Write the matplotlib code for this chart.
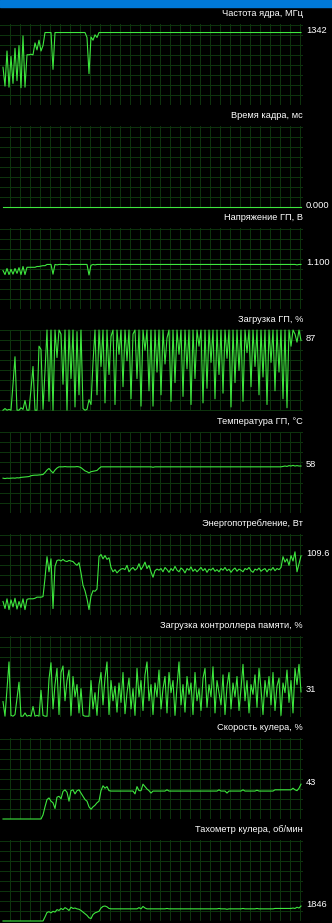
import numpy as np
import matplotlib
matplotlib.use("Agg")
import matplotlib.pyplot as plt
from matplotlib.patches import Rectangle

plt.rcParams['font.family'] = ['Liberation Sans', 'DejaVu Sans']

# подписи графиков и текущие значения справа
titles = ["Частота ядра, МГц", "Время кадра, мс", "Напряжение ГП, В",
          "Загрузка ГП, %", "Температура ГП, °C", "Энергопотребление, Вт",
          "Загрузка контроллера памяти, %", "Скорость кулера, %",
          "Тахометр кулера, об/мин"]
value_labels = ["1342", "0.000", "1.100", "87", "58", "109.6", "31", "43", "1846"]
y_limits = [(0, 1500), (0, 10), (0, 2), (0, 100), (0, 100),
            (0, 150), (0, 100), (0, 100), (0, 10000)]

# ------------------------------
# данные мониторинга (150 отсчётов)
# ------------------------------
core_clock = [
    700, 350, 1000, 330, 900, 400, 1050, 450, 1100, 320, 1280, 330, 930, 930, 940,
    930, 1150, 1020, 1200, 1000, 1100, 1342, 1342, 1342, 1342, 660, 1342, 1342, 1342, 1342,
    1342, 1342, 1342, 1342, 1342, 1342, 1342, 1342, 1342, 1342, 1342, 1342, 1250, 580, 1260,
    1200, 1300, 1250, 1342, 1342, 1342, 1342, 1342, 1342, 1342, 1342, 1342, 1342, 1342, 1342,
    1342, 1342, 1342, 1342, 1342, 1342, 1342, 1342, 1342, 1342, 1342, 1342, 1342, 1342, 1342,
    1342, 1342, 1342, 1342, 1342, 1342, 1342, 1342, 1342, 1342, 1342, 1342, 1342, 1342, 1342,
    1342, 1342, 1342, 1342, 1342, 1342, 1342, 1342, 1342, 1342, 1342, 1342, 1342, 1342, 1342,
    1342, 1342, 1342, 1342, 1342, 1342, 1342, 1342, 1342, 1342, 1342, 1342, 1342, 1342, 1342,
    1342, 1342, 1342, 1342, 1342, 1342, 1342, 1342, 1342, 1342, 1342, 1342, 1342, 1342, 1342,
    1342, 1342, 1342, 1342, 1342, 1342, 1342, 1342, 1342, 1342, 1342, 1342, 1342, 1342, 1342,
]

frame_time = [
    0, 0, 0, 0, 0, 0, 0, 0, 0, 0, 0, 0, 0, 0, 0,
    0, 0, 0, 0, 0, 0, 0, 0, 0, 0, 0, 0, 0, 0, 0,
    0, 0, 0, 0, 0, 0, 0, 0, 0, 0, 0, 0, 0, 0, 0,
    0, 0, 0, 0, 0, 0, 0, 0, 0, 0, 0, 0, 0, 0, 0,
    0, 0, 0, 0, 0, 0, 0, 0, 0, 0, 0, 0, 0, 0, 0,
    0, 0, 0, 0, 0, 0, 0, 0, 0, 0, 0, 0, 0, 0, 0,
    0, 0, 0, 0, 0, 0, 0, 0, 0, 0, 0, 0, 0, 0, 0,
    0, 0, 0, 0, 0, 0, 0, 0, 0, 0, 0, 0, 0, 0, 0,
    0, 0, 0, 0, 0, 0, 0, 0, 0, 0, 0, 0, 0, 0, 0,
    0, 0, 0, 0, 0, 0, 0, 0, 0, 0, 0, 0, 0, 0, 0,
]

gpu_voltage = [
    0.95, 0.85, 1.0, 0.85, 0.98, 0.86, 1.0, 0.88, 1.02, 0.85, 1.05, 0.85, 1.03, 1.03, 1.03,
    1.03, 1.03, 1.05, 1.05, 1.06, 1.07, 1.07, 1.1, 1.1, 1.1, 0.86, 1.1, 1.09, 1.1, 1.1,
    1.1, 1.1, 1.1, 1.09, 1.1, 1.1, 1.1, 1.1, 1.1, 1.1, 1.1, 1.1, 1.1, 0.84, 1.08,
    1.1, 1.09, 1.1, 1.1, 1.1, 1.1, 1.1, 1.1, 1.1, 1.1, 1.1, 1.1, 1.1, 1.1, 1.1,
    1.1, 1.1, 1.1, 1.1, 1.1, 1.1, 1.1, 1.1, 1.1, 1.1, 1.1, 1.1, 1.1, 1.1, 1.1,
    1.1, 1.1, 1.1, 1.1, 1.1, 1.1, 1.1, 1.1, 1.1, 1.1, 1.1, 1.1, 1.1, 1.1, 1.1,
    1.1, 1.1, 1.1, 1.1, 1.1, 1.1, 1.1, 1.1, 1.1, 1.1, 1.1, 1.1, 1.1, 1.1, 1.1,
    1.1, 1.1, 1.1, 1.1, 1.1, 1.1, 1.1, 1.1, 1.1, 1.1, 1.1, 1.1, 1.1, 1.1, 1.1,
    1.1, 1.1, 1.1, 1.1, 1.1, 1.1, 1.1, 1.1, 1.1, 1.1, 1.1, 1.1, 1.1, 1.1, 1.1,
    1.1, 1.1, 1.1, 1.1, 1.1, 1.1, 1.1, 1.1, 1.1, 1.1, 1.1, 1.1, 1.09, 1.1, 1.1,
]

gpu_load = [
    1, 3, 1, 2, 1, 33, 67, 1, 1, 4, 2, 13, 1, 1, 27,
    55, 1, 1, 80, 76, 2, 49, 100, 12, 100, 1, 100, 66, 100, 95,
    33, 100, 1, 100, 40, 100, 5, 98, 20, 100, 3, 1, 2, 14, 8,
    60, 100, 20, 100, 55, 100, 10, 100, 45, 92, 100, 8, 100, 70, 100,
    30, 100, 62, 100, 15, 95, 100, 40, 100, 6, 100, 75, 100, 25, 100,
    6, 100, 48, 100, 20, 100, 58, 90, 100, 12, 100, 35, 100, 70, 100,
    18, 100, 52, 100, 8, 100, 40, 100, 80, 100, 10, 100, 28, 100, 60,
    100, 15, 100, 45, 100, 22, 100, 65, 100, 5, 100, 35, 100, 50, 100,
    12, 100, 72, 100, 30, 100, 55, 100, 20, 100, 42, 100, 8, 100, 60,
    100, 25, 100, 48, 100, 15, 100, 4, 100, 80, 100, 95, 85, 100, 87,
]

gpu_temp = [
    43, 42.5, 43, 42.8, 43, 43.2, 43, 43.5, 43.3, 44, 44.2, 44.5, 44.7, 45, 46,
    46.5, 46.7, 46.7, 47, 47.2, 47.5, 50, 53, 55, 52, 49.5, 53, 55.5, 57, 57,
    57, 57.3, 57, 57, 57, 57, 57, 57.3, 57, 56, 54, 52, 51, 49.5, 51,
    51.5, 52, 52.5, 55, 57, 57, 57, 57, 57, 57, 57, 57, 57, 57, 57,
    57, 57, 57, 57, 57, 57, 57, 57, 57, 57, 57, 57, 57, 57, 57,
    56.5, 57, 57, 57, 57, 57, 57, 57, 57, 57, 57, 57, 57, 57, 57,
    57, 57, 57, 57, 57, 57, 57, 57, 57, 57, 57, 57, 57, 57, 57,
    57, 57, 57, 57, 57, 57, 57, 57, 57, 57, 57, 57, 57, 57, 57,
    57, 57, 57, 57, 57, 57, 57, 57, 57, 57, 57, 57, 57, 57, 57,
    57, 57, 57, 57, 57, 57.5, 58, 57.5, 58.5, 58, 58.8, 58, 58.5, 58, 58,
]

power = [
    25, 12, 30, 10, 28, 15, 31, 11, 25, 14, 30, 10, 29, 30, 30,
    30, 31, 33, 33, 33, 34, 68, 108, 80, 104, 12, 90, 101, 102, 100,
    103, 100, 99, 101, 100, 99, 95, 92, 97, 78, 55, 45, 30, 10, 35,
    45, 44, 48, 108, 112, 104, 110, 103, 106, 88, 80, 84, 78, 82, 85,
    86, 84, 92, 80, 85, 88, 83, 86, 95, 84, 90, 98, 86, 92, 80,
    70, 82, 85, 83, 86, 80, 88, 84, 79, 86, 82, 90, 83, 80, 87,
    84, 78, 86, 83, 89, 81, 85, 80, 84, 88, 82, 86, 79, 85, 83,
    87, 81, 84, 80, 86, 83, 88, 82, 85, 79, 84, 87, 81, 85, 83,
    80, 86, 84, 88, 82, 79, 85, 83, 87, 81, 84, 86, 80, 85, 83,
    88, 82, 86, 84, 88, 108, 98, 104, 92, 110, 100, 117, 80, 95, 109.6,
]

mem_ctrl_load = [
    19, 1, 35, 68, 2, 1, 3, 23, 43, 1, 1, 5, 1, 2, 1,
    13, 1, 2, 1, 33, 2, 1, 1, 47, 67, 10, 40, 60, 3, 55,
    63, 20, 45, 58, 2, 50, 25, 40, 5, 35, 2, 1, 1, 1, 45,
    10, 30, 2, 40, 55, 15, 48, 68, 3, 45, 20, 38, 6, 42, 18,
    55, 4, 30, 48, 10, 35, 2, 60, 25, 45, 8, 52, 68, 20, 40,
    3, 42, 25, 58, 10, 35, 50, 5, 55, 30, 45, 2, 38, 68, 15,
    40, 6, 50, 28, 42, 3, 55, 20, 35, 8, 48, 60, 12, 40, 25,
    62, 5, 45, 30, 15, 52, 3, 38, 55, 10, 42, 25, 50, 8, 35,
    65, 20, 45, 5, 40, 28, 52, 12, 60, 35, 3, 45, 25, 50, 15,
    55, 8, 38, 48, 2, 42, 30, 58, 18, 45, 5, 60, 40, 65, 31,
]

fan_speed = [
    0, 0, 0, 0, 0, 0, 0, 0, 0, 0, 0, 0, 0, 0, 0,
    0, 0, 0, 0, 0, 5, 15, 24, 26, 22, 20, 13, 27, 28, 25,
    34, 36, 33, 22, 35, 36, 31, 35, 36, 32, 28, 24, 22, 15, 12,
    15, 17, 20, 22, 35, 41, 38, 40, 35, 34.5, 34.5, 34.5, 34.5, 34.5, 34.5,
    34.5, 34.5, 34.5, 34.5, 34.5, 34.5, 31, 40, 35, 35, 43, 40, 37, 35, 32,
    34.5, 34.5, 34.5, 34.5, 34.5, 34.5, 34.5, 36, 34.5, 34.5, 34.5, 34.5, 34.5, 34.5, 34.5,
    34.5, 34.5, 34.5, 34.5, 34.5, 34.5, 34.5, 34.5, 34.5, 34.5, 34.5, 34.5, 34.5, 34.5, 34.5,
    34.5, 34.5, 34.5, 36, 34.5, 34.5, 34.5, 32, 34.5, 34.5, 34.5, 34.5, 34.5, 34.5, 34.5,
    36, 34.5, 34.5, 34.5, 34.5, 34.5, 34.5, 35.5, 34.5, 34.5, 34.5, 34.5, 34.5, 34.5, 34.5,
    34.5, 36, 36, 36, 36, 36, 36, 36, 36, 36, 38, 36, 35, 38, 43,
]

fan_rpm = [
    0, 0, 0, 0, 0, 0, 0, 0, 0, 0, 0, 0, 0, 0, 0,
    0, 0, 0, 0, 0, 0, 500, 1050, 1150, 1000, 1200, 1100, 1400, 1300, 1550,
    1400, 1650, 1500, 1300, 1700, 1550, 1600, 1500, 1450, 1300, 1100, 900, 700, 400, 300,
    800, 1000, 1100, 1200, 1600, 1800, 1850, 1750, 1550, 1500, 1500, 1500, 1500, 1500, 1500,
    1500, 1500, 1500, 1500, 1500, 1500, 1500, 1500, 1650, 1500, 1800, 1600, 1500, 1500, 1500,
    1500, 1500, 1500, 1500, 1500, 1500, 1500, 1550, 1500, 1500, 1500, 1500, 1500, 1500, 1500,
    1500, 1500, 1500, 1500, 1500, 1500, 1500, 1500, 1500, 1500, 1500, 1500, 1500, 1500, 1500,
    1500, 1500, 1500, 1550, 1500, 1500, 1500, 1450, 1500, 1500, 1500, 1500, 1500, 1500, 1500,
    1550, 1500, 1500, 1500, 1500, 1500, 1500, 1550, 1500, 1500, 1500, 1500, 1500, 1500, 1500,
    1500, 1550, 1550, 1550, 1550, 1550, 1550, 1550, 1550, 1550, 1600, 1550, 1700, 1600, 1846,
]

series = [core_clock, frame_time, gpu_voltage, gpu_load, gpu_temp,
          power, mem_ctrl_load, fan_speed, fan_rpm]

# ------------------------------
# рисование
# ------------------------------
W, H = 332, 923
PLOT_W = 303
LINE = "#3ee63e"
GRID = "#0d330d"

fig = plt.figure(figsize=(W / 100, H / 100), dpi=100, facecolor="black")
fig.patches.append(Rectangle((0, 1 - 7 / H), 1, 7 / H, transform=fig.transFigure,
                             color="#0078d7", zorder=0))

x = np.arange(150)
for k in range(9):
    top = 24 + 102 * k
    ax = fig.add_axes([0, 1 - (top + 81) / H, PLOT_W / W, 81 / H])
    ax.set_facecolor("black")
    lo, hi = y_limits[k]
    ax.set_xlim(-1.5, 150)
    ax.set_ylim(lo, hi)
    for s in ax.spines.values():
        s.set_visible(False)
    ax.set_xticks([])
    ax.set_yticks([])

    # сетка 10x10 пикселей
    for gx in np.arange(3.25, 150, 5):
        ax.axvline(gx, color=GRID, lw=0.72, antialiased=False, zorder=1)
    for j in range(9):
        ax.axhline(hi - (hi - lo) * (10 * j + 0.5) / 81, color=GRID, lw=0.72,
                   antialiased=False, zorder=1)

    ax.plot(x, series[k], color=LINE, lw=0.8, clip_on=False, zorder=3)

    fig.text(PLOT_W / W, 1 - (top - 10) / H, titles[k], ha="right", va="center",
             color="white", fontsize=6.7)
    ax.annotate(value_labels[k], xy=(1, series[k][-1]),
                xycoords=("axes fraction", "data"), xytext=(3, 2),
                textcoords="offset pixels", ha="left", va="center",
                color="white", fontsize=6.7)

fig.savefig("out.png", dpi=100, facecolor="black")
